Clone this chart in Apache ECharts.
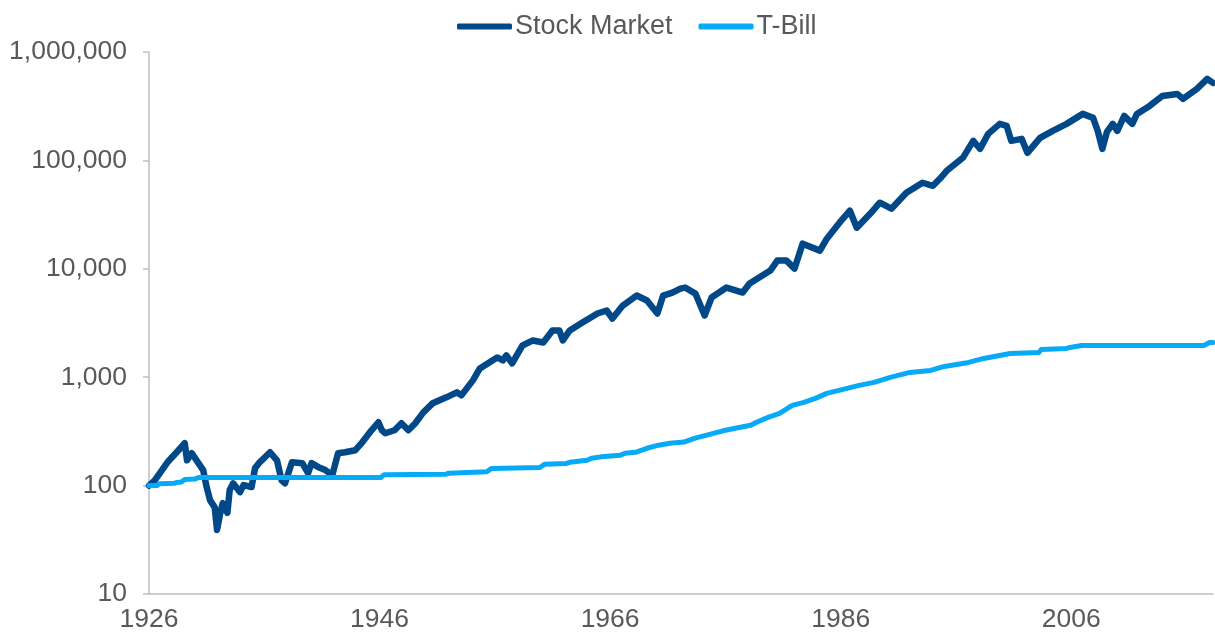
<!DOCTYPE html>
<html>
<head>
<meta charset="utf-8">
<script src="https://cdn.jsdelivr.net/npm/echarts@6/dist/echarts.min.js"></script>
<style>
    html, body { margin: 0; padding: 0; background: #fff; }
    #growthChart { width: 1215px; height: 633px; }
</style>
</head>
<body>
<div id="growthChart"></div>
<script>
// growth of $100, log scale
var stockYears = [1926.0, 1926.5, 1927.6, 1928.4, 1929.1, 1929.3, 1929.7, 1930.7, 1931.0, 1931.3, 1931.7, 1931.9,
    1932.2, 1932.4, 1932.8, 1933.0, 1933.3, 1933.9, 1934.2, 1934.9, 1935.2, 1935.6, 1936.5, 1937.1, 1937.5, 1937.8,
    1938.4, 1939.3, 1939.8, 1940.1, 1940.7, 1941.3, 1941.9, 1942.4, 1943.0, 1943.9, 1944.5, 1945.3, 1945.9, 1946.2,
    1946.5, 1947.3, 1947.9, 1948.5, 1949.1, 1949.8, 1950.6, 1951.8, 1952.7, 1953.1, 1954.1, 1954.7, 1956.2, 1956.7,
    1957.0, 1957.5, 1958.4, 1959.3, 1960.2, 1961.0, 1961.6, 1961.9, 1962.5, 1963.6, 1964.9, 1965.7, 1966.2, 1967.1,
    1968.3, 1969.2, 1970.1, 1970.6, 1971.4, 1972.1, 1972.5, 1973.4, 1974.2, 1974.8, 1976.1, 1977.5, 1978.1, 1979.9,
    1980.5, 1981.3, 1982.0, 1982.7, 1984.2, 1984.8, 1985.9, 1986.8, 1987.4, 1988.8, 1989.4, 1990.4, 1991.7, 1993.1,
    1994.0, 1994.6, 1995.2, 1996.6, 1997.5, 1998.1, 1998.8, 1999.8, 2000.4, 2000.8, 2001.7, 2002.2, 2003.3, 2004.4,
    2005.6, 2007.0, 2007.9, 2008.3, 2008.7, 2009.1, 2009.6, 2010.0, 2010.6, 2011.3, 2011.7, 2012.8, 2013.9, 2015.2,
    2015.7, 2016.9, 2017.8, 2018.3];
var stockValues = [100, 112, 164, 203, 246, 171, 199, 139, 97, 73, 63, 39,
    57, 69, 56, 91, 105, 87, 101, 97, 145, 164, 203, 171, 112, 105,
    164, 161, 130, 161, 148, 139, 125, 199, 203, 212, 251, 324, 384, 324,
    304, 324, 376, 324, 376, 474, 574, 652, 725, 680, 935, 1205, 1522, 1428,
    1588, 1340, 1963, 2183, 2091, 2698, 2698, 2183, 2698, 3196, 3868, 4122, 3478, 4582,
    5665, 5095, 3868, 5665, 6037, 6573, 6714, 5909, 3709, 5429, 6714, 6037, 7306, 9625,
    11900, 11900, 10040, 17060, 14710, 18970, 26640, 34350, 23950, 34350, 40700, 35840, 50300, 62200,
    58340, 67700, 80200, 105600, 151500, 127900, 175800, 217300, 208200, 151500, 158100, 117500, 161500, 187400,
    217300, 268600, 246800, 187400, 127900, 183400, 217300, 187400, 257400, 217300, 268600, 318200, 393300, 410600,
    369200, 456300, 564100, 518200];

var billYears = [1926.0, 1926.7, 1926.9, 1928.2, 1928.4, 1928.8, 1929.1, 1930.0, 1930.3, 1946.1, 1946.4, 1951.7,
    1952.0, 1955.3, 1955.7, 1959.9, 1960.3, 1962.2, 1962.5, 1964.0, 1964.4, 1965.5, 1966.9, 1967.3, 1968.2, 1969.2,
    1970.2, 1971.2, 1972.4, 1973.3, 1974.3, 1975.3, 1976.0, 1977.3, 1978.2, 1978.7, 1979.7, 1980.7, 1981.8, 1982.8,
    1983.8, 1984.8, 1986.2, 1987.6, 1988.9, 1990.3, 1992.0, 1993.8, 1995.0, 1997.1, 1998.4, 1999.8, 2000.7, 2003.2,
    2003.4, 2005.6, 2005.9, 2006.9, 2017.5, 2018.0, 2018.3];
var billValues = [100, 100, 104, 105, 107, 108, 114, 115, 119, 119, 126, 127,
    130, 134, 144, 147, 157, 160, 164, 171, 179, 186, 191, 199, 203, 221,
    236, 246, 252, 273, 291, 310, 324, 345, 360, 384, 426, 464, 550, 586,
    638, 709, 772, 840, 896, 996, 1107, 1155, 1257, 1368, 1490, 1588, 1657, 1692,
    1803, 1842, 1882, 1963, 1963, 2091, 2091];

var yearLabels = [1926, 1946, 1966, 1986, 2006];

function pairs(xs, ys) {
    var out = [];
    for (var i = 0; i < xs.length; i++) {
        out.push([xs[i], ys[i]]);
    }
    return out;
}

var growthChart = echarts.init(document.getElementById('growthChart'));

var textColor = '#595959';
var axisColor = '#bfbfbf';
var fontName = '"Liberation Sans", Arial, sans-serif';

var option = {
    animation: false,
    legend: {
        top: 8,
        left: 452,
        icon: 'roundRect',
        itemWidth: 55,
        itemHeight: 6,
        itemGap: 26,
        textStyle: {
            color: textColor,
            fontSize: 27,
            fontFamily: fontName,
            padding: [0, 0, 0, -2]
        },
        data: ['Stock Market', 'T-Bill']
    },
    grid: {
        left: 149,
        right: 2,
        top: 52,
        bottom: 39
    },
    xAxis: {
        type: 'value',
        min: 1926,
        max: 2018.3,
        splitLine: { show: false },
        axisTick: { show: false },
        axisLine: {
            lineStyle: { color: axisColor, width: 1.5 }
        },
        axisLabel: {
            customValues: yearLabels,
            margin: 12,
            color: textColor,
            fontSize: 26.5,
            fontFamily: fontName,
            formatter: function (v) {
                return String(v);
            }
        }
    },
    yAxis: {
        type: 'log',
        logBase: 10,
        min: 10,
        max: 1000000,
        splitLine: { show: false },
        axisTick: {
            show: true,
            length: 6,
            lineStyle: { color: axisColor, width: 1.5 }
        },
        axisLine: {
            show: true,
            lineStyle: { color: axisColor, width: 1.5 }
        },
        axisLabel: {
            margin: 22,
            color: textColor,
            fontSize: 26.5,
            fontFamily: fontName,
            formatter: function (v) {
                return Number(v).toLocaleString('en-US');
            }
        }
    },
    series: [{
        name: 'Stock Market',
        type: 'line',
        symbol: 'none',
        data: pairs(stockYears, stockValues),
        itemStyle: { color: '#004887' },
        lineStyle: { width: 6.5, color: '#004887', cap: 'round', join: 'round' }
    }, {
        name: 'T-Bill',
        type: 'line',
        symbol: 'none',
        data: pairs(billYears, billValues),
        itemStyle: { color: '#06aaf6' },
        lineStyle: { width: 5, color: '#06aaf6', cap: 'round', join: 'round' }
    }]
};
growthChart.setOption(option);
</script>
</body>
</html>
